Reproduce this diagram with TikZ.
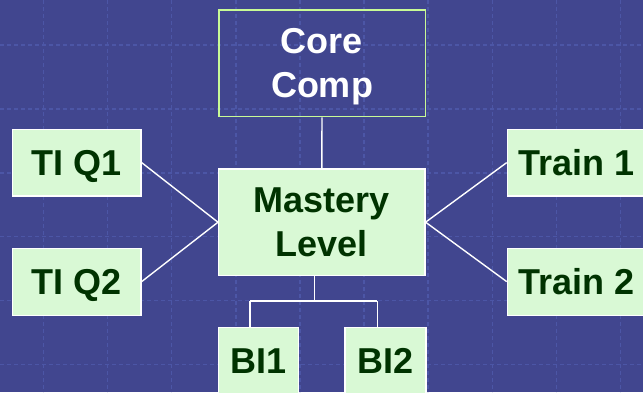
\documentclass[tikz,border=0pt]{standalone}
\usepackage{fontspec}
\setmainfont{Liberation Sans}
\definecolor{bgblue}{RGB}{65,70,143}
\definecolor{gridblue}{RGB}{76,86,166}
\definecolor{boxfill}{RGB}{217,249,213}
\definecolor{boxtext}{RGB}{0,51,0}
\definecolor{coreborder}{RGB}{200,250,150}
\begin{document}
\begin{tikzpicture}[x=1pt,y=-1pt,
  greenbox/.style={draw=white,line width=1.2pt,fill=boxfill,text=boxtext,
    font=\fontsize{36}{44}\selectfont\bfseries,align=center,inner sep=0pt},
  oneline/.style={text height=25.8pt,text depth=0pt},
  corebox/.style={draw=coreborder,line width=1.6pt,text=white,
    font=\fontsize{36}{44}\selectfont\bfseries,align=center,inner sep=0pt},
  link/.style={draw=white,line width=1.4pt},
  gridline/.style={draw=gridblue,line width=1.5pt,dash pattern=on 4pt off 3pt}]
\fill[bgblue] (0,0) rectangle (643,392);
\useasboundingbox (0,0) rectangle (643,392);
\foreach \i in {0,...,9} \draw[gridline] (43.3+64.15*\i,0) -- (43.3+64.15*\i,392);
\foreach \j in {0,...,5} \draw[gridline] (0,45+63.9*\j) -- (643,45+63.9*\j);
\node[corebox,minimum width=206.6pt,minimum height=106.7pt] (core) at (322,63.2) {Core\\Com\smash{p}};
\node[greenbox,minimum width=206.4pt,minimum height=106.3pt] (mast) at (321.8,222.2) {Mastery\\Level};
\node[greenbox,oneline,minimum width=128.3pt,minimum height=66.7pt] (tiq1) at (76.9,162.6) {TI Q1};
\node[greenbox,oneline,minimum width=128.3pt,minimum height=67pt] (tiq2) at (76.9,281.6) {TI Q2};
\node[greenbox,oneline,minimum width=138.6pt,minimum height=66.7pt] (tr1) at (576.6,162.6) {Train 1};
\node[greenbox,oneline,minimum width=138.6pt,minimum height=67pt] (tr2) at (576.6,281.6) {Train 2};
\node[greenbox,oneline,minimum width=80pt,minimum height=67.4pt] (bi1) at (258.3,361) {BI1};
\node[greenbox,oneline,minimum width=81pt,minimum height=67.4pt] (bi2) at (385.5,361) {BI2};
\coordinate (j) at (314.3,301);
\coordinate (jl) at (250,301);
\coordinate (jr) at (377.3,301);
\draw[link] (core.south) -- (mast.north);
\draw[link] (tiq1.east) -- (mast.west);
\draw[link] (tiq2.east) -- (mast.west);
\draw[link] (tr1.west) -- (mast.east);
\draw[link] (tr2.west) -- (mast.east);
\draw[link] (mast.south -| j) -- (j);
\draw[link] (jl) -- (jr);
\draw[link] (jl) -- (jl |- bi1.north);
\draw[link] (jr) -- (jr |- bi2.north);
\end{tikzpicture}
\end{document}
